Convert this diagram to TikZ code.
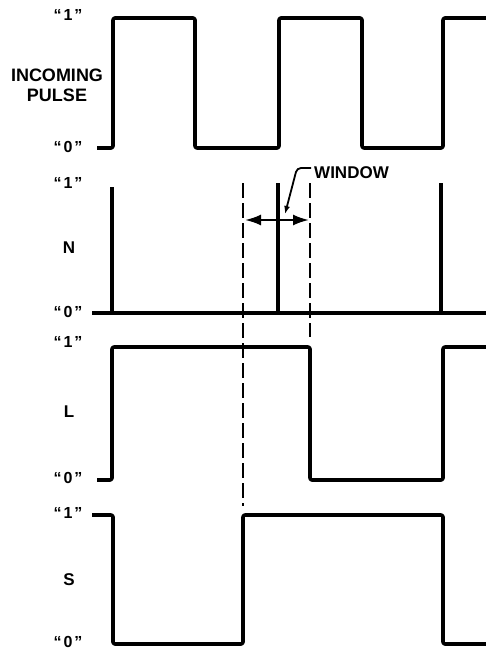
\documentclass[tikz,border=0pt]{standalone}
\usepackage{fontspec}
\setmainfont{Liberation Sans}
\usetikzlibrary{arrows.meta}
\begin{document}
\begin{tikzpicture}[x=1pt,y=-1pt,
  wave/.style={line width=3.6pt, line join=round, rounded corners=2pt},
  spike/.style={line width=3.4pt},
  guide/.style={line width=2.2pt, dash pattern=on 15pt off 5pt},
  dim/.style={line width=2.2pt, -{Latex[length=16pt,width=11pt]}},
  leader/.style={line width=1.8pt, rounded corners=4pt, -{Latex[length=8pt,width=6pt]}},
  lab/.style={font=\bfseries\fontsize{16}{19}\selectfont, inner sep=0pt},
  big/.style={font=\bfseries\fontsize{18}{20}\selectfont, inner sep=0pt, align=center}]
\useasboundingbox (0,0) rectangle (485,650);

% labels
\node[lab] (in1) at (68,15) {``\hspace{2pt}1\hspace{2pt}''};
\node[big] (inlab) at (57,85) {INCOMING\\PULSE};
\node[lab] (in0) at (68,147) {``\hspace{2pt}0\hspace{2pt}''};

\node[lab] (n1) at (68,183) {``\hspace{2pt}1\hspace{2pt}''};
\node[lab, font=\bfseries\fontsize{17}{19}\selectfont] (nlab) at (69,248) {N};
\node[lab] (n0) at (68,312) {``\hspace{2pt}0\hspace{2pt}''};

\node[lab] (l1) at (68,342) {``\hspace{2pt}1\hspace{2pt}''};
\node[lab, font=\bfseries\fontsize{17}{19}\selectfont] (llab) at (69,412) {L};
\node[lab] (l0) at (68,478) {``\hspace{2pt}0\hspace{2pt}''};

\node[lab] (s1) at (68,513) {``\hspace{2pt}1\hspace{2pt}''};
\node[lab, font=\bfseries\fontsize{17}{19}\selectfont] (slab) at (69,580) {S};
\node[lab] (s0) at (68,642) {``\hspace{2pt}0\hspace{2pt}''};

% incoming pulse
\draw[wave] (97,148) -- (113,148) -- (113,18) -- (195,18) -- (195,148) -- (279,148)
  -- (279,18) -- (362,18) -- (362,148) -- (443,148) -- (443,18) -- (486,18);

% N
\draw[wave] (92,313) -- (486,313);
\draw[spike] (112,187) -- (112,313);
\draw[spike] (278,183) -- (278,313);
\draw[spike] (441,183) -- (441,313);

% L
\draw[wave] (97,480) -- (112,480) -- (112,347) -- (310,347) -- (310,480) -- (443,480)
  -- (443,347) -- (486,347);

% S
\draw[wave] (92,515) -- (113,515) -- (113,644) -- (243,644) -- (243,515) -- (443,515)
  -- (443,644) -- (486,644);

% window guides
\coordinate (gl) at (243,183);
\coordinate (gr) at (310,183);
\draw[guide] (gl) -- (243,506);
\draw[guide] (gr) -- (310,337);
\coordinate (mid) at (278,220);
\draw[dim] (mid) -- (245,220);
\draw[dim] (mid) -- (309,220);

% window label
\node[lab, font=\bfseries\fontsize{17}{19}\selectfont, anchor=west] (win) at (314,173) {WINDOW};
\coordinate (tip) at (285,214);
\draw[leader] (win.west |- 0,168) ++(-3,0) -- (297,168) -- (tip);
\end{tikzpicture}
\end{document}
